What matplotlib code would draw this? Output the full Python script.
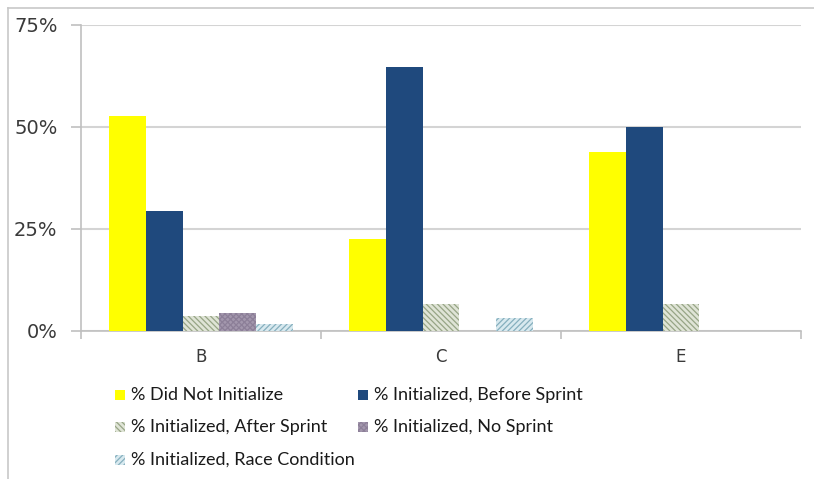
import matplotlib
matplotlib.use('Agg')
import matplotlib.pyplot as plt
from matplotlib.lines import Line2D
from matplotlib.patches import Rectangle
import numpy as np

# данные
categories = ['B', 'C', 'E']
series_names = ['% Did Not Initialize', '% Initialized, Before Sprint',
                '% Initialized, After Sprint', '% Initialized, No Sprint',
                '% Initialized, Race Condition']
did_not_init = [52.7, 22.6, 43.8]
before_sprint = [29.3, 64.6, 50.0]
after_sprint = [3.6, 6.5, 6.5]
no_sprint = [4.4, 0.0, 0.0]
race_condition = [1.7, 3.3, 0.0]

yticks = [0, 25, 50, 75]
ytick_labels = ['0%', '25%', '50%', '75%']

# стиль каждой серии: (facecolor, цвет штриховки, штриховка)
styles = [
    ('#ffff00', '#ffff00', None),
    ('#1f497d', '#1f497d', None),
    ('#dfe4d6', '#97a586', '\\\\\\\\\\\\'),
    ('#a397ad', '#8c7f98', 'xxxxxx'),
    ('#d8e9ef', '#86afbe', '//////'),
]

values = [did_not_init, before_sprint, after_sprint, no_sprint, race_condition]

W, H = 814, 479
plt.rcParams['hatch.linewidth'] = 0.9

fig = plt.figure(figsize=(W / 100, H / 100), dpi=100)
ax = fig.add_axes([81 / W, 1 - 331 / H, 720 / W, 306 / H])

x = np.arange(len(categories))
w = 0.154
for i, vals in enumerate(values):
    fc, ec, hatch = styles[i]
    ax.bar(x + (i - 2) * w, vals, width=w, color=fc, edgecolor=ec,
           hatch=hatch, linewidth=0, zorder=3)

ax.set_xlim(-0.5, 2.5)
ax.set_ylim(0, 75)

ax.set_yticks(yticks)
ax.set_yticklabels(ytick_labels)
ax.yaxis.grid(True, color='#d4d4d4', linewidth=1.5, zorder=0)
ax.tick_params(axis='y', direction='out', length=7, width=1.2, color='#c0c0c0',
               labelsize=14, labelcolor='#3a3a3a', pad=10)
for t in ax.get_yticklabels():
    t.set_va('center_baseline')

# x: риски на границах категорий, подписи по центру
ax.set_xticks([-0.5, 0.5, 1.5, 2.5])
ax.set_xticklabels([])
ax.set_xticks(x, minor=True)
ax.set_xticklabels(categories, minor=True)
ax.tick_params(axis='x', which='major', direction='out', length=6, width=1.2, color='#c0c0c0')
ax.tick_params(axis='x', which='minor', length=0, labelsize=12, labelcolor='#3a3a3a', pad=12)

for s in ['top', 'right']:
    ax.spines[s].set_visible(False)
for s in ['left', 'bottom']:
    ax.spines[s].set_color('#c0c0c0')
    ax.spines[s].set_linewidth(1.2)

# легенда вручную: сетка как в Excel
leg_pos = [(115, 395), (358, 395), (115, 427), (358, 427), (115, 460)]
for i, (px, py) in enumerate(leg_pos):
    fc, ec, hatch = styles[i]
    fig.add_artist(Rectangle((px / W, 1 - (py + 5) / H), 10 / W, 10 / H,
                             transform=fig.transFigure, facecolor=fc, edgecolor=ec,
                             hatch=hatch, linewidth=0))
    fig.text((px + 16) / W, 1 - py / H, series_names[i], family='Lato', size=13,
             color='#1a1a1a', va='center', ha='left')

# рамка вокруг картинки
fig.add_artist(Line2D([8 / W, 8 / W], [0, 1 - 8 / H], transform=fig.transFigure,
                      color='#c8c8c8', linewidth=1.2))
fig.add_artist(Line2D([8 / W, 1], [1 - 8 / H, 1 - 8 / H], transform=fig.transFigure,
                      color='#c8c8c8', linewidth=1.2))

fig.savefig('out.png', dpi=100)
